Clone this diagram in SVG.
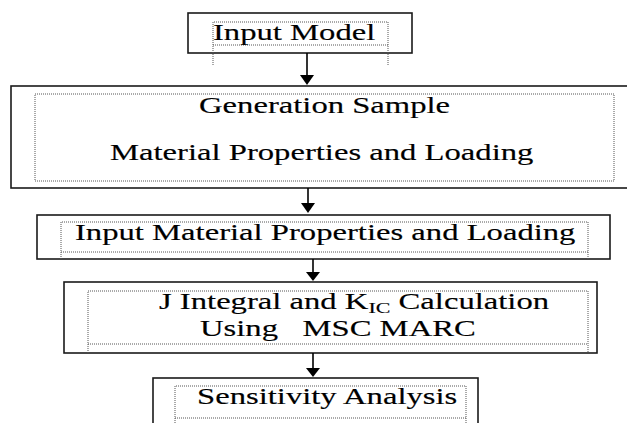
<svg xmlns="http://www.w3.org/2000/svg" width="627" height="423" viewBox="0 0 627 423">
<style>
.outer{fill:none;stroke:#1a1a1a;stroke-width:1.6}
.inner{fill:none;stroke:#555;stroke-width:1;stroke-dasharray:1 1}
.t{font-family:"Liberation Serif","Times New Roman",serif;font-size:23px;fill:#000;stroke:#000;stroke-width:0.15;white-space:pre}
.conn line{stroke:#000;stroke-width:1.6}
.conn polygon{fill:#000}
</style>
<rect width="627" height="423" fill="#fff"/>
<g id="n1">
<rect class="outer" x="188" y="13" width="224" height="40"/>
<path class="inner" d="M213,65V22H388V65M213,45H388"/>
<text class="t" transform="translate(213,40) scale(1.42,1)">Input Model</text>
</g>
<g id="n2">
<rect class="outer" x="11" y="86" width="630" height="102"/>
<path class="inner" d="M35,94H614V181H35Z"/>
<text class="t" transform="translate(199,113) scale(1.42,1)">Generation Sample</text>
<text class="t" transform="translate(110,160) scale(1.42,1)">Material Properties and Loading</text>
</g>
<g id="n3">
<rect class="outer" x="37" y="215" width="573" height="44"/>
<path class="inner" d="M61,259V222H588V259M61,252H588"/>
<text class="t" transform="translate(75,240) scale(1.42,1)">Input Material Properties and Loading</text>
</g>
<g id="n4">
<rect class="outer" x="64" y="282" width="533" height="71"/>
<path class="inner" d="M88,353V291H588V353M88,344H588"/>
<text class="t" transform="translate(159,309) scale(1.42,1)">J Integral and K<tspan font-size="15.5" dy="4">IC</tspan><tspan dy="-4"> Calculation</tspan></text>
<text class="t" transform="translate(200,336) scale(1.42,1)">Using   MSC MARC</text>
</g>
<g id="n5">
<rect class="outer" x="153" y="378" width="325" height="60"/>
<path class="inner" d="M175,423V386H466V423M175,418H466"/>
<text class="t" transform="translate(197,404) scale(1.42,1)">Sensitivity Analysis</text>
</g>
<g id="connectors" class="conn">
<line x1="307" y1="53" x2="307" y2="77"/>
<polygon points="300,75 314,75 307,85"/>
<line x1="308" y1="188" x2="308" y2="205"/>
<polygon points="301,203 315,203 308,213"/>
<line x1="313" y1="259" x2="313" y2="274"/>
<polygon points="306,272 320,272 313,281"/>
<line x1="313" y1="353" x2="313" y2="370"/>
<polygon points="306,368 320,368 313,377"/>
</g>
</svg>
